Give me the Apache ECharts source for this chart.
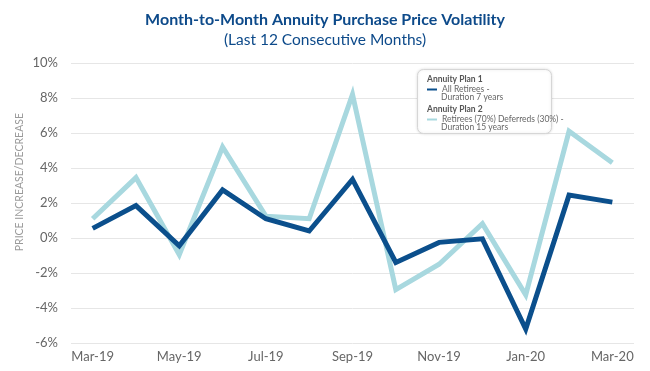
<!DOCTYPE html>
<html>
<head>
<meta charset="utf-8">
<script src="https://cdn.jsdelivr.net/npm/echarts@6/dist/echarts.min.js"></script>
<style>html,body{margin:0;padding:0;background:#fff}#c{width:650px;height:371px}</style>
</head>
<body>
<div id="c"></div>
<script>
var categories = ['Mar-19','Apr-19','May-19','Jun-19','Jul-19','Aug-19','Sep-19','Oct-19','Nov-19','Dec-19','Jan-20','Feb-20','Mar-20'];
var plan1Values = [0.55, 1.85, -0.45, 2.75, 1.1, 0.4, 3.35, -1.4, -0.25, -0.05, -5.2, 2.45, 2.05];
var plan2Values = [1.1, 3.45, -0.95, 5.2, 1.25, 1.1, 8.2, -2.95, -1.5, 0.82, -3.25, 6.1, 4.3];
var plan1Name = 'All Retirees - Duration 7 years';
var plan2Name = 'Retirees (70%) Deferreds (30%) - Duration 15 years';
var yTicks = {min: -6, max: 10, interval: 2};

var FONT = 'Lato, "Open Sans", sans-serif';
var chart = echarts.init(document.getElementById('c'), null, {renderer: 'canvas'});
var legendText = {fontFamily: FONT, fontSize: 8.5, color: '#666'};
chart.setOption({
  animation: false,
  backgroundColor: '#fff',
  title: {
    text: 'Month-to-Month Annuity Purchase Price Volatility',
    subtext: '(Last 12 Consecutive Months)',
    left: 'center', top: 7, itemGap: 4,
    textStyle: {fontFamily: FONT, fontSize: 16, fontWeight: 'bold', color: '#0d4a8a'},
    subtextStyle: {fontFamily: FONT, fontSize: 15.5, color: '#0d4a8a'}
  },
  grid: {left: 71, right: 16, top: 63, bottom: 28},
  graphic: [
    {type: 'rect', left: 417, top: 69, z: 5,
     shape: {width: 134, height: 64, r: 6},
     style: {fill: '#fff', stroke: '#d6d6d6', lineWidth: 1, shadowBlur: 3, shadowColor: 'rgba(0,0,0,0.12)'}},
    {type: 'text', left: 427, top: 75, z: 6,
     style: {text: 'Annuity Plan 1', font: 'bold 8.5px ' + FONT, fill: '#555'}},
    {type: 'text', left: 441, top: 93, z: 6,
     style: {text: 'Duration 7 years', font: '8.5px ' + FONT, fill: '#666'}},
    {type: 'text', left: 427, top: 105, z: 6,
     style: {text: 'Annuity Plan 2', font: 'bold 8.5px ' + FONT, fill: '#555'}},
    {type: 'text', left: 441, top: 123, z: 6,
     style: {text: 'Duration 15 years', font: '8.5px ' + FONT, fill: '#666'}},
    {type: 'text', left: 14, top: 113, rotation: Math.PI / 2, z: 6,
     style: {text: 'PRICE INCREASE/DECREASE', font: '10.5px ' + FONT, fill: '#9a9a9a'}}
  ],
  legend: [
    {data: [plan1Name], left: 427, top: 85, icon: 'rect', itemWidth: 10, itemHeight: 2, itemGap: 0, z: 7,
     padding: 0, textStyle: legendText,
     formatter: function () { return 'All Retirees -'; }},
    {data: [plan2Name], left: 427, top: 115, icon: 'rect', itemWidth: 10, itemHeight: 2, itemGap: 0, z: 7,
     padding: 0, textStyle: legendText,
     formatter: function () { return 'Retirees (70%) Deferreds (30%) -'; }}
  ],
  xAxis: {
    type: 'category', data: categories, boundaryGap: true,
    axisLine: {show: false}, axisTick: {show: false},
    axisLabel: {interval: 1, margin: 7, fontFamily: FONT, fontSize: 13, color: '#666'}
  },
  yAxis: {
    type: 'value', min: yTicks.min, max: yTicks.max, interval: yTicks.interval,
    axisLine: {show: false}, axisTick: {show: false},
    axisLabel: {formatter: '{value}%', margin: 13, fontFamily: FONT, fontSize: 13, color: '#666'},
    splitLine: {lineStyle: {color: '#e6e6e6', width: 1}}
  },
  series: [
    {name: plan2Name, type: 'line', data: plan2Values, symbol: 'none',
     lineStyle: {color: '#a8d8df', width: 5, join: 'miter'}, itemStyle: {color: '#a8d8df'}},
    {name: plan1Name, type: 'line', data: plan1Values, symbol: 'none',
     lineStyle: {color: '#0b4f8c', width: 5, join: 'miter'}, itemStyle: {color: '#0b4f8c'}}
  ]
});
</script>
</body>
</html>
